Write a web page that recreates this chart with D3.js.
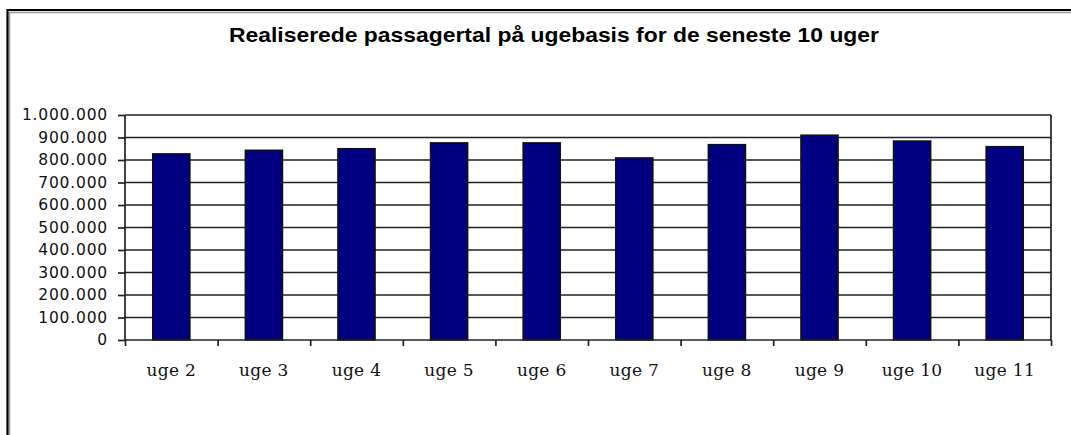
<!DOCTYPE html>
<html>
<head>
<meta charset="utf-8">
<script src="https://cdn.jsdelivr.net/npm/d3@7/dist/d3.min.js"></script>
<style>
body { margin: 0; background: #fff; }
.ylab text { font: 15.5px "DejaVu Sans", sans-serif; letter-spacing: 0.8px; fill: #111; }
.xlab text { font: 17px "DejaVu Serif", serif; letter-spacing: 0.3px; fill: #111; }
</style>
</head>
<body>
<svg id="chart" width="1071" height="435"></svg>
<script>

// data
var weeks = ["uge 2", "uge 3", "uge 4", "uge 5", "uge 6", "uge 7", "uge 8", "uge 9", "uge 10", "uge 11"];
var passengers = [827000, 843000, 850000, 876000, 876000, 809000, 868000, 910000, 884000, 859000];
var yTicks = [0, 100000, 200000, 300000, 400000, 500000, 600000, 700000, 800000, 900000, 1000000];
var chartTitle = "Realiserede passagertal på ugebasis for de seneste 10 uger";

var svg = d3.select("#chart");
var plotL = 125, plotR = 1051, plotT = 115, plotB = 340;

var dk = d3.formatLocale({ decimal: ",", thousands: ".", grouping: [3], currency: ["", ""] });
var fmt = dk.format(",d");

var x = d3.scaleBand().domain(weeks).range([plotL, plotR]).paddingInner(0.6).paddingOuter(0.3);
var xEdges = d3.scaleLinear().domain([0, weeks.length]).range([plotL, plotR]);
var y = d3.scaleLinear().domain([0, 1000000]).range([plotB, plotT]);

// outer frame (only left and top show in the crop)
svg.append("path").attr("d", "M8,435V11H1071").attr("fill", "none")
  .attr("stroke", "#999").attr("stroke-width", 1.5).attr("transform", "translate(1.5,1.5)");
svg.append("path").attr("d", "M7.5,435V10H1071").attr("fill", "none")
  .attr("stroke", "#000").attr("stroke-width", 2.2);

svg.append("text")
  .attr("x", 554).attr("y", 42)
  .attr("text-anchor", "middle")
  .attr("textLength", 650).attr("lengthAdjust", "spacingAndGlyphs")
  .style("font", "bold 21px 'Liberation Sans', Arial, sans-serif")
  .style("fill", "#000")
  .text(chartTitle);

// gridlines
svg.append("g").selectAll("line")
  .data(yTicks.slice(1))
  .join("line")
  .attr("x1", plotL).attr("x2", plotR)
  .attr("y1", function(d) { return y(d) }).attr("y2", function(d) { return y(d) })
  .attr("stroke", "#222").attr("stroke-width", 1.7);

// right border of plot
svg.append("line").attr("x1", plotR).attr("x2", plotR).attr("y1", plotT).attr("y2", plotB)
  .attr("stroke", "#222").attr("stroke-width", 1.7);

// bars
svg.append("g").selectAll("rect")
  .data(passengers)
  .join("rect")
  .attr("x", function(d, i) { return x(weeks[i]) })
  .attr("y", function(d) { return y(d) })
  .attr("width", x.bandwidth())
  .attr("height", function(d) { return y(0) - y(d) })
  .attr("fill", "#000080")
  .attr("stroke", "#111").attr("stroke-width", 1.6);

// y axis
var yAxis = svg.append("g").attr("class", "ylab")
  .attr("transform", "translate(" + plotL + ",0)")
  .call(d3.axisLeft(y).tickValues(yTicks).tickFormat(fmt).tickSize(7).tickPadding(10));
yAxis.selectAll("line, path").attr("stroke", "#222").attr("stroke-width", 1.7);
yAxis.select(".domain").attr("d", "M0," + plotT + "V" + plotB);

// x axis: boundary ticks
var xAxis = svg.append("g")
  .attr("transform", "translate(0," + plotB + ")")
  .call(d3.axisBottom(xEdges).ticks(weeks.length).tickFormat("").tickSize(6));
xAxis.selectAll("line, path").attr("stroke", "#222").attr("stroke-width", 1.7);
xAxis.select(".domain").attr("d", "M" + plotL + ",0H" + plotR);

// x labels
var xLab = svg.append("g").attr("class", "xlab")
  .attr("transform", "translate(0," + plotB + ")")
  .call(d3.axisBottom(x).tickSize(0));
xLab.select(".domain").remove();
xLab.selectAll("text").attr("y", 36).attr("dy", null);

</script>
</body>
</html>
